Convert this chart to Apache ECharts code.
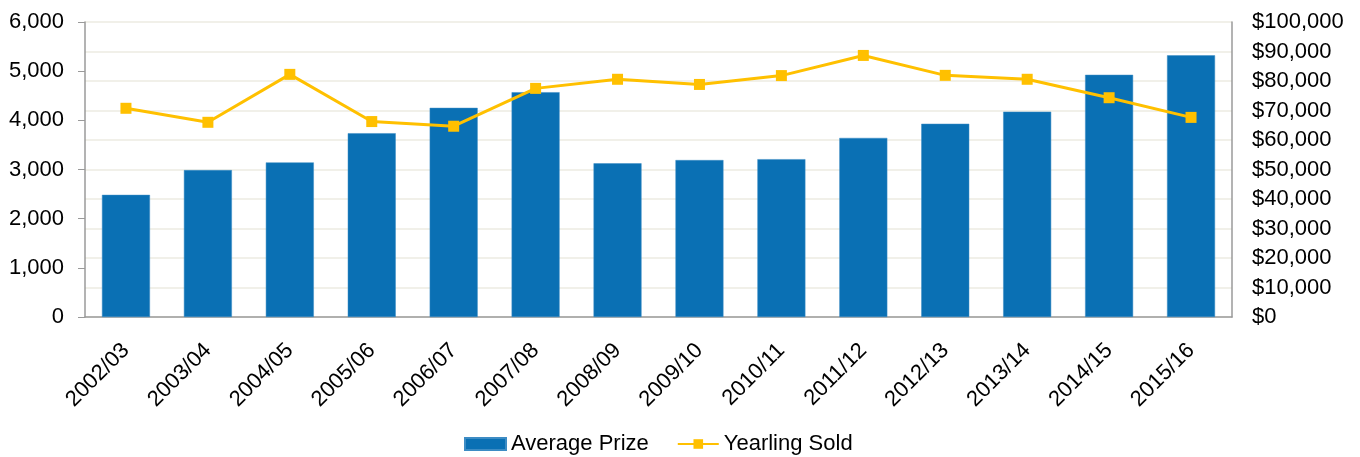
<!DOCTYPE html>
<html>
<head>
<meta charset="utf-8">
<script src="https://cdn.jsdelivr.net/npm/echarts@6/dist/echarts.min.js"></script>
<style>
    html, body { margin: 0; padding: 0; background: #fff; }
    #chart { width: 1360px; height: 457px; }
</style>
</head>
<body>
<div id="chart"></div>
<script>
const seasons = ['2002/03', '2003/04', '2004/05', '2005/06', '2006/07', '2007/08', '2008/09',
    '2009/10', '2010/11', '2011/12', '2012/13', '2013/14', '2014/15', '2015/16']

// bars, read against the $ axis on the right
const averagePrize = [41400, 49800, 52400, 62300, 70900, 76200, 52100,
    53200, 53500, 60700, 65500, 69600, 82100, 88700]

// line, read against the count axis on the left
const yearlingSold = [4245, 3960, 4935, 3975, 3880, 4650, 4835,
    4730, 4910, 5320, 4915, 4835, 4460, 4060]

const countTicks = { min: 0, max: 6000, interval: 1000 }
const prizeTicks = { min: 0, max: 100000, interval: 10000 }

const fmt = new Intl.NumberFormat('en-US')
const font = 'Liberation Sans, Arial, sans-serif'

const chart = echarts.init(document.getElementById('chart'))

chart.setOption({
    animation: false,
    textStyle: { fontFamily: font },
    grid: {
        left: 85,
        right: 128,
        top: 22,
        bottom: 140
    },
    legend: {
        left: 464,
        top: 433,
        padding: 0,
        itemWidth: 41,
        itemHeight: 12,
        itemGap: 28,
        textStyle: { fontSize: 22, color: '#000', fontFamily: font },
        data: [
            { name: 'Average Prize', icon: 'rect' },
            { name: 'Yearling Sold' }
        ]
    },
    xAxis: {
        type: 'category',
        data: seasons,
        axisLine: { lineStyle: { color: '#9a9a9a', width: 1.5 } },
        axisTick: { show: false },
        axisLabel: {
            rotate: 45,
            margin: 30,
            fontSize: 22,
            color: '#000',
            fontFamily: font,
            interval: 0
        }
    },
    yAxis: [
        {
            type: 'value',
            position: 'left',
            min: countTicks.min,
            max: countTicks.max,
            interval: countTicks.interval,
            axisLine: { show: true, lineStyle: { color: '#9a9a9a', width: 1.5 } },
            axisTick: { show: true, length: 7, lineStyle: { color: '#9a9a9a' } },
            splitLine: { show: false },
            axisLabel: {
                margin: 21,
                fontSize: 22,
                color: '#000',
                fontFamily: font,
                formatter: v => fmt.format(v)
            }
        },
        {
            type: 'value',
            position: 'right',
            min: prizeTicks.min,
            max: prizeTicks.max,
            interval: prizeTicks.interval,
            axisLine: { show: true, lineStyle: { color: '#9a9a9a', width: 1.5 } },
            axisTick: { show: false },
            splitLine: { show: true, lineStyle: { color: '#ecebe2', width: 1.5 } },
            axisLabel: {
                margin: 20,
                fontSize: 22,
                color: '#000',
                fontFamily: font,
                formatter: v => '$' + fmt.format(v)
            }
        }
    ],
    series: [
        {
            name: 'Average Prize',
            type: 'bar',
            yAxisIndex: 1,
            barWidth: 48,
            itemStyle: { color: '#0a70b4', borderColor: '#3d8cc4', borderWidth: 0.5 },
            data: averagePrize
        },
        {
            name: 'Yearling Sold',
            type: 'line',
            yAxisIndex: 0,
            symbol: 'rect',
            symbolSize: 11,
            lineStyle: { color: '#ffc000', width: 3 },
            itemStyle: { color: '#ffc000' },
            data: yearlingSold
        }
    ]
})
</script>
</body>
</html>
